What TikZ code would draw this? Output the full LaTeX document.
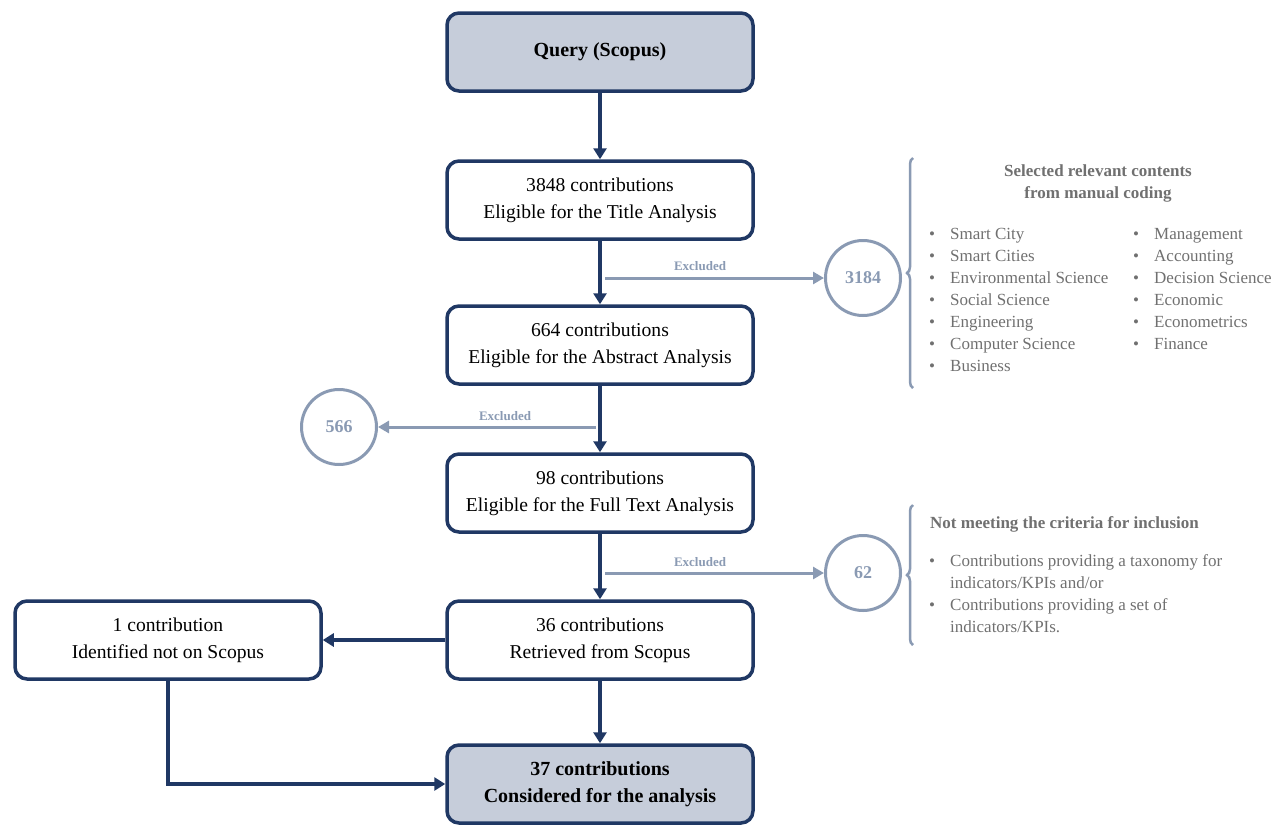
\documentclass[tikz,border=0pt]{standalone}
\usepackage{fontspec}
\setmainfont{Liberation Serif}
\usetikzlibrary{arrows.meta,decorations.pathreplacing}
\definecolor{navy}{HTML}{203864}
\definecolor{boxfill}{HTML}{C6CDDA}
\definecolor{steel}{HTML}{8A9AB3}
\definecolor{txtgray}{HTML}{707070}
\begin{document}
\begin{tikzpicture}[x=1pt,y=-1pt,
 stepbox/.style={draw=navy, line width=3.5pt, rounded corners=12pt, minimum width=306pt, minimum height=78pt, align=center, font=\fontsize{19.6}{27}\selectfont, inner sep=0pt, fill=white},
 keybox/.style={stepbox, fill=boxfill, font=\fontsize{20}{27}\selectfont\bfseries},
 flow/.style={draw=navy, line width=3.5pt, -{Triangle[length=11pt,width=13pt]}},
 excl/.style={draw=steel, line width=3pt, -{Triangle[length=11pt,width=12pt]}},
 count/.style={circle, draw=steel, line width=3pt, minimum size=75pt, inner sep=0pt, text=steel, font=\fontsize{18}{20}\selectfont\bfseries},
 exlab/.style={text=steel, font=\fontsize{13}{14}\selectfont\bfseries, inner sep=0pt},
 side/.style={text=txtgray, font=\fontsize{17}{22}\selectfont, align=left, inner sep=0pt},
 brc/.style={draw=steel, line width=2.5pt, decorate, decoration={brace, amplitude=6pt}}
]
\useasboundingbox (0,0) rectangle (1287,825);

% main boxes
\node[keybox] (q) at (600,52) {Query (Scopus)};
\node[stepbox] (t) at (600,200) {3848 contributions\\Eligible for the Title Analysis};
\node[stepbox] (a) at (600,345) {664 contributions\\Eligible for the Abstract Analysis};
\node[stepbox] (f) at (600,493) {98 contributions\\Eligible for the Full Text Analysis};
\node[stepbox] (r) at (600,640) {36 contributions\\Retrieved from Scopus};
\node[stepbox] (o) at (168,640) {1 contribution\\Identified not on Scopus};
\node[keybox] (c) at (600,784) {37 contributions\\Considered for the analysis};

% flow connectors
\draw[flow] (q) -- (t);
\draw[flow] (t) -- (a);
\draw[flow] (a) -- (f);
\draw[flow] (f) -- (r);
\draw[flow] (r) -- (c);
\draw[flow] (r) -- (o);
\draw[flow] (o.south) |- (c.west);

% exclusion circles
\node[count] (n3184) at (863,278) {3184};
\node[count] (n566) at (339,427) {566};
\node[count] (n62) at (863,573) {62};

\coordinate (e1) at (605,278);
\coordinate (e2) at (596,427);
\coordinate (e3) at (605,573);
\draw[excl] (e1) -- (n3184);
\draw[excl] (e2) -- (n566);
\draw[excl] (e3) -- (n62);
\node[exlab] (l1) at (700,266) {Excluded};
\node[exlab] (l2) at (505,416) {Excluded};
\node[exlab] (l3) at (700,562) {Excluded};

% braces
\coordinate (b1s) at (913,388);
\coordinate (b1e) at (913,158);
\coordinate (b2s) at (913,645);
\coordinate (b2e) at (913,505);
\draw[brc] (b1s) -- (b1e);
\draw[brc] (b2s) -- (b2e);

% side text 1
\node[side, font=\fontsize{17}{22}\selectfont\bfseries, align=center, anchor=north] (h1) at (1098,164.6) {Selected relevant contents\\from manual coding};
\node[side, anchor=north west] (s1) at (929,223.6) {%
\begin{tabular}{@{}l@{}l@{}}
\makebox[21pt][l]{\textbullet} & Smart City\\
\makebox[21pt][l]{\textbullet} & Smart Cities\\
\makebox[21pt][l]{\textbullet} & Environmental Science\\
\makebox[21pt][l]{\textbullet} & Social Science\\
\makebox[21pt][l]{\textbullet} & Engineering\\
\makebox[21pt][l]{\textbullet} & Computer Science\\
\makebox[21pt][l]{\textbullet} & Business
\end{tabular}};
\node[side, anchor=north west] (s2) at (1133,223.6) {%
\begin{tabular}{@{}l@{}l@{}}
\makebox[21pt][l]{\textbullet} & Management\\
\makebox[21pt][l]{\textbullet} & Accounting\\
\makebox[21pt][l]{\textbullet} & Decision Science\\
\makebox[21pt][l]{\textbullet} & Economic\\
\makebox[21pt][l]{\textbullet} & Econometrics\\
\makebox[21pt][l]{\textbullet} & Finance
\end{tabular}};

% side text 2
\node[side, font=\fontsize{17}{22}\selectfont\bfseries, anchor=base west] (h2) at (930,528) {Not meeting the criteria for inclusion};
\node[side, anchor=north west] (s3) at (929,550.6) {%
\begin{tabular}{@{}l@{}l@{}}
\makebox[21pt][l]{\textbullet} & Contributions providing a taxonomy for\\
 & indicators/KPIs and/or\\
\makebox[21pt][l]{\textbullet} & Contributions providing a set of\\
 & indicators/KPIs.
\end{tabular}};
\end{tikzpicture}
\end{document}
